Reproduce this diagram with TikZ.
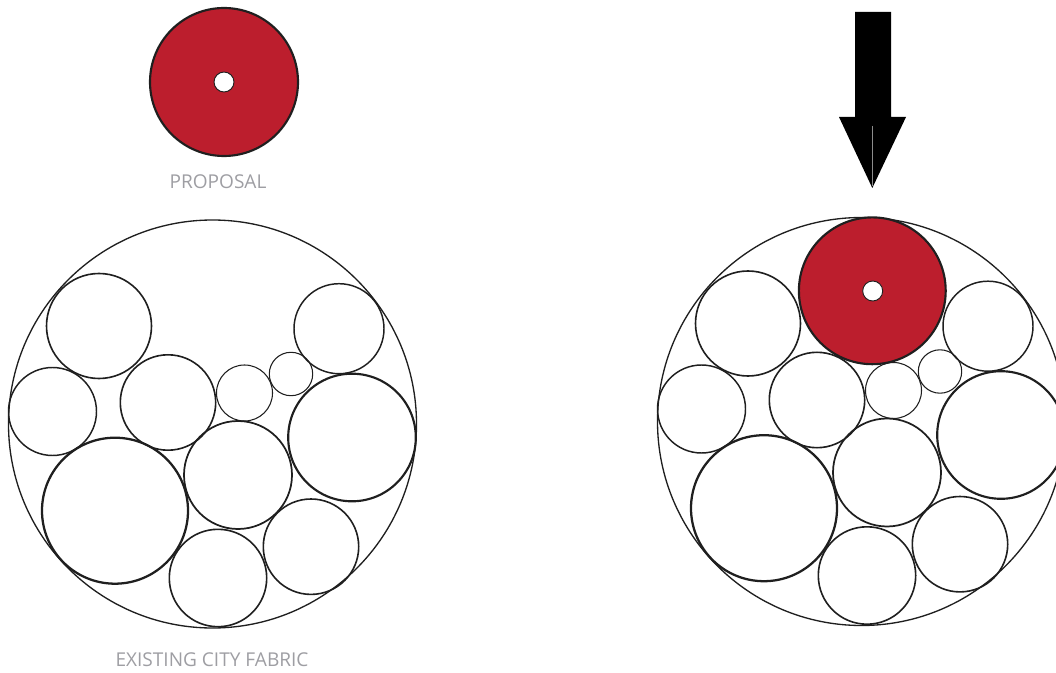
\documentclass[tikz,border=0pt]{standalone}
\usepackage{fontspec}
\setsansfont{Open Sans}
\usetikzlibrary{positioning}
\definecolor{proposalred}{RGB}{188,30,45}
\definecolor{labelgrey}{RGB}{158,158,163}
\tikzset{
  outer/.style    = {draw=black!88, line width=1pt},
  cell/.style     = {draw=black!88},
  proposal/.style = {draw=black!88, fill=proposalred, line width=1.6pt},
  hole/.style     = {draw=black!88, fill=white, line width=0.7pt},
  caption/.style  = {text=labelgrey, inner sep=0pt,
                     font=\sffamily\fontsize{14.3}{16}\selectfont},
}
\newcommand{\cityfabric}{%
  \draw[outer] (212.5,424) circle (204);
  \foreach \cx/\cy/\cr/\lw in {99/326/52.5/1.2, 52.5/411.5/44/1.1,
      168/402.5/47.7/1.2, 244.5/393/28/0.8, 291/374/21.7/0.8,
      339/328.7/45/1.1, 352/437.5/63.8/1.6, 115/510.7/73/1.7,
      238/475/54/1.3, 218/578/48.7/1.2, 311/546.7/47.7/1.2}
    \draw[cell, line width=\lw pt] (\cx,\cy) circle (\cr);
}

\begin{document}
\begin{tikzpicture}[x=0.75pt, y=-0.75pt]
  \useasboundingbox (0,0) rectangle (1056,673);
  \clip (0,0) rectangle (1056,673);
  % the proposal on its own
  \draw[proposal] (224,82) circle (74);
  \draw[hole] (224,82) circle (10);
  \node[caption] (proplabel) at (218,182) {PROPOSAL};
  % existing fabric
  \cityfabric
  \node[caption] (fabriclabel) at (212,660) {EXISTING CITY FABRIC};
  % fabric with the proposal dropped in
  \begin{scope}[shift={(649,-2.5)}]
    \cityfabric
  \end{scope}
  \draw[proposal] (872.3,290.8) circle (73.4);
  \draw[hole] (872.7,291) circle (10);
  % arrow
  \fill[black] (855,12) -- (891,12) -- (891,117) -- (906,117) -- (872.3,188)
    -- (839,117) -- (855,117) -- cycle;
  \draw[black!45, line width=0.4pt] (872.3,126) -- (872.3,186);
\end{tikzpicture}
\end{document}
